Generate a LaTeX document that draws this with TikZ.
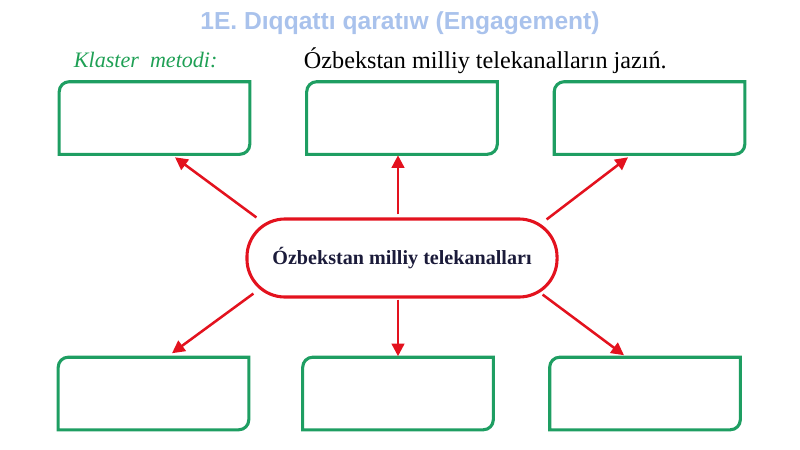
\documentclass[tikz,border=0pt]{standalone}
\usepackage{fontspec}
\setmainfont{Liberation Serif}
\newfontfamily\titlefont{Liberation Sans}
\usepackage{xcolor}
\usetikzlibrary{arrows.meta,calc}
\definecolor{boxgreen}{HTML}{1E9E62}
\definecolor{arrred}{HTML}{E3121E}
\definecolor{titleblue}{HTML}{A9C2EC}
\definecolor{textnavy}{HTML}{1B1B3A}
\definecolor{klgreen}{HTML}{1FA055}

\tikzset{
  answer/.style={minimum width=4.75cm,minimum height=1.8cm,inner sep=0pt},
  frame/.style={draw=boxgreen,line width=2.2pt},
  arr/.style={draw=arrred,line width=1.8pt,-{Triangle[length=9pt,width=9pt]}},
}
\newcommand{\diagbox}[1]{%
  \draw[frame] ($(#1.north west)+(0,10)$) arc[start angle=180,end angle=90,radius=0.25cm]
    -- (#1.north east) -- ($(#1.south east)+(0,-10)$) arc[start angle=0,end angle=-90,radius=0.25cm]
    -- (#1.south west) -- cycle;}

\begin{document}
\begin{tikzpicture}[x=0.025cm,y=-0.025cm]
\useasboundingbox (0,0) rectangle (800,449);
\node[font=\titlefont\bfseries\fontsize{17.5}{21}\selectfont,text=titleblue] (title) at (400,23) {1E. Dıqqattı qaratıw (Engagement)};
\node[anchor=west,font=\itshape\fontsize{15.7}{18}\selectfont,text=klgreen] (method) at (69,60) {Klaster\ \ metodi:};
\node[anchor=west,font=\fontsize{17.2}{20}\selectfont] (task) at (299,61) {Ózbekstan milliy telekanalların jazıń.};
% answer boxes
\node[answer] (b1) at (154.5,118) {};
\node[answer] (b2) at (402,118) {};
\node[answer] (b3) at (649.5,118) {};
\node[answer] (b4) at (153.5,393.5) {};
\node[answer] (b5) at (398,393.5) {};
\node[answer] (b6) at (645,393.5) {};
\foreach \b in {1,...,6} \diagbox{b\b};
% centre
\node[draw=arrred,line width=2.2pt,rounded corners=0.95cm,minimum width=7.75cm,minimum height=1.95cm,
  font=\bfseries\fontsize{14.3}{16}\selectfont,text=textnavy] (hub) at (402,258) {Ózbekstan milliy telekanalları};
\draw[arr] ($(hub.north west)+(11,0)$) -- ($(b1.south)+(20.5,3)$);
\draw[arr] ($(hub.north)+(-4,-3)$) -- ($(b2.south)+(-4,1)$);
\draw[arr] ($(hub.north east)+(-12,2)$) -- ($(b3.south)+(-21.5,3)$);
\draw[arr] ($(hub.south west)+(8,-5)$) -- ($(b4.north)+(18.5,-4)$);
\draw[arr] ($(hub.south)+(-4,1)$) -- ($(b5.north)+(0,-1)$);
\draw[arr] ($(hub.south east)+(-16,-4)$) -- ($(b6.north)+(-21,-2)$);
\end{tikzpicture}
\end{document}
